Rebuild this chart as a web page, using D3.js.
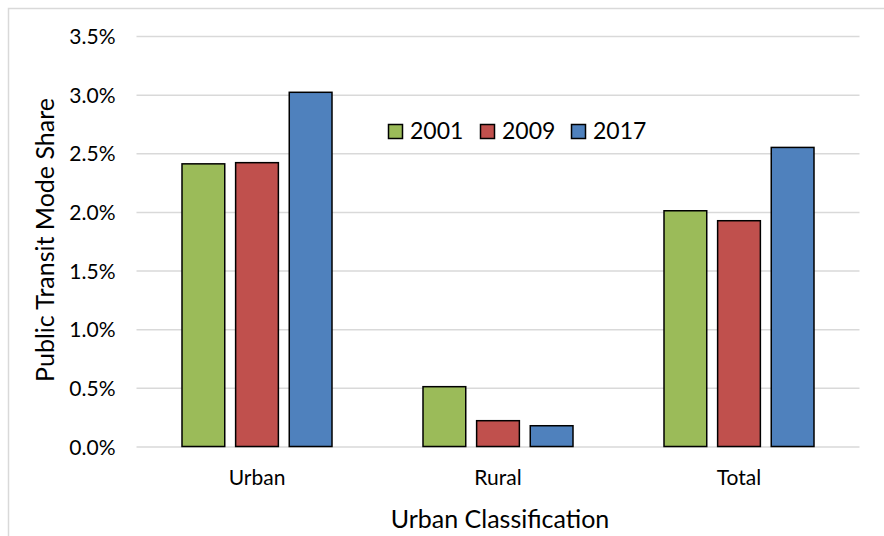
<!DOCTYPE html>
<html><head><meta charset="utf-8">
<script src="https://cdn.jsdelivr.net/npm/d3@7"></script>
<style>body{margin:0;background:#fff}svg{display:block}text{font-family:Lato,"Open Sans",sans-serif;fill:#000}</style>
</head><body><svg id="c" width="884" height="536"></svg>
<script>
const categories = ["Urban", "Rural", "Total"];
const years = ["2001", "2009", "2017"];
const s2001 = [2.41, 0.51, 2.01];
const s2009 = [2.42, 0.22, 1.925];
const s2017 = [3.02, 0.177, 2.55];
const yTicks = [0, 0.5, 1.0, 1.5, 2.0, 2.5, 3.0, 3.5];
const colors = ["#9BBB59", "#C0504D", "#4F81BD"];
const series = [s2001, s2009, s2017];

const svg = d3.select("#c");
svg.append("path").attr("d","M8.5,540 V8.5 H890").attr("fill","none").attr("stroke","#d9d9d9").attr("stroke-width",1.5);

const x0 = d3.scaleBand().domain(categories).range([136.5, 859.5]);
const x1 = d3.scaleBand().domain(years).range([45.5, 195.5]).paddingInner(0.203).paddingOuter(0);
const y = d3.scaleLinear().domain([0, 3.5]).range([446.5, 36]);

const grid = svg.append("g").attr("transform","translate(136.5,0)")
  .call(d3.axisLeft(y).tickValues(yTicks).tickSize(-(859.5-136.5)).tickFormat(d => d.toFixed(1) + "%"));
grid.select(".domain").remove();
grid.selectAll(".tick line").attr("stroke","#d9d9d9").attr("stroke-width",1.5);
grid.selectAll(".tick text").attr("x",-21).attr("dy","0.36em").attr("font-size","21px").attr("font-family","Lato, sans-serif").attr("fill","#000");

const data = categories.map((c,i) => ({c, vals: years.map((yr,j) => ({yr, v: series[j][i], col: colors[j]}))}));
const grp = svg.append("g").selectAll("g").data(data).join("g").attr("transform", d => `translate(${x0(d.c)},0)`);
grp.selectAll("rect").data(d => d.vals).join("rect")
  .attr("x", d => x1(d.yr)).attr("width", x1.bandwidth())
  .attr("y", d => y(d.v)).attr("height", d => y(0) - y(d.v))
  .attr("fill", d => d.col).attr("stroke","#000").attr("stroke-width",1.5);

const xa = svg.append("g").attr("transform","translate(0,446.5)")
  .call(d3.axisBottom(x0).tickSize(0));
xa.select(".domain").remove();
xa.selectAll("text").attr("y",38.5).attr("dy",0).attr("font-size","21px").attr("font-family","Lato, sans-serif").attr("fill","#000");

svg.append("text").attr("x",500).attr("y",528).attr("text-anchor","middle").attr("font-size","25px").text("Urban Classification");
svg.append("text").attr("transform","translate(54,240) rotate(-90)").attr("text-anchor","middle").attr("font-size","25px").text("Public Transit Mode Share");

const legX = [388, 480, 571];
const leg = svg.append("g");
years.forEach((yr,i) => {
  leg.append("rect").attr("x",legX[i]+0.5).attr("y",124.5).attr("width",14).attr("height",14)
    .attr("fill",colors[i]).attr("stroke","#000").attr("stroke-width",1.5);
  leg.append("text").attr("x",legX[i]+22).attr("y",139).attr("font-size","23px").text(yr);
});
</script></body></html>
